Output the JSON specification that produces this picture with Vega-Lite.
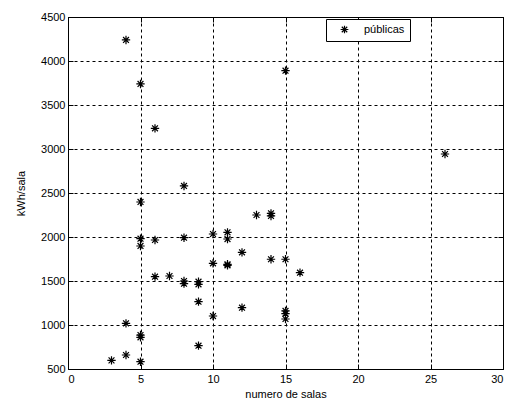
{
  "$schema": "https://vega.github.io/schema/vega-lite/v6.json",
  "width": 435,
  "height": 352,
  "autosize": "none",
  "padding": {"left": 68, "top": 17, "right": 9, "bottom": 38},
  "background": "white",
  "config": {
    "view": {"stroke": "black", "strokeWidth": 1},
    "font": "Liberation Sans",
    "axis": {
      "domain": false,
      "grid": true,
      "gridColor": "black",
      "gridDash": [3, 3],
      "gridOpacity": 1,
      "gridWidth": 1,
      "tickColor": "black",
      "tickSize": -5,
      "labelColor": "black",
      "labelFontSize": 11,
      "labelFont": "Liberation Sans",
      "titleFont": "Liberation Sans",
      "titleFontSize": 11,
      "titleFontWeight": "normal",
      "titleColor": "black"
    }
  },
  "data": {"values": [
    {"salas": 4, "kwh": 4239, "tipo": "públicas"},
    {"salas": 5, "kwh": 3739, "tipo": "públicas"},
    {"salas": 6, "kwh": 3235, "tipo": "públicas"},
    {"salas": 15, "kwh": 3890, "tipo": "públicas"},
    {"salas": 26, "kwh": 2943, "tipo": "públicas"},
    {"salas": 8, "kwh": 2580, "tipo": "públicas"},
    {"salas": 5, "kwh": 2398, "tipo": "públicas"},
    {"salas": 5, "kwh": 1981, "tipo": "públicas"},
    {"salas": 5, "kwh": 1898, "tipo": "públicas"},
    {"salas": 6, "kwh": 1966, "tipo": "públicas"},
    {"salas": 8, "kwh": 1992, "tipo": "públicas"},
    {"salas": 10, "kwh": 2034, "tipo": "públicas"},
    {"salas": 11, "kwh": 2053, "tipo": "públicas"},
    {"salas": 11, "kwh": 1977, "tipo": "públicas"},
    {"salas": 13, "kwh": 2250, "tipo": "públicas"},
    {"salas": 14, "kwh": 2269, "tipo": "públicas"},
    {"salas": 14, "kwh": 2239, "tipo": "públicas"},
    {"salas": 12, "kwh": 1826, "tipo": "públicas"},
    {"salas": 10, "kwh": 1701, "tipo": "públicas"},
    {"salas": 11, "kwh": 1690, "tipo": "públicas"},
    {"salas": 11, "kwh": 1678, "tipo": "públicas"},
    {"salas": 14, "kwh": 1747, "tipo": "públicas"},
    {"salas": 15, "kwh": 1747, "tipo": "públicas"},
    {"salas": 16, "kwh": 1595, "tipo": "públicas"},
    {"salas": 6, "kwh": 1549, "tipo": "públicas"},
    {"salas": 7, "kwh": 1557, "tipo": "públicas"},
    {"salas": 8, "kwh": 1500, "tipo": "públicas"},
    {"salas": 8, "kwh": 1470, "tipo": "públicas"},
    {"salas": 9, "kwh": 1492, "tipo": "públicas"},
    {"salas": 9, "kwh": 1462, "tipo": "públicas"},
    {"salas": 9, "kwh": 1265, "tipo": "públicas"},
    {"salas": 10, "kwh": 1102, "tipo": "públicas"},
    {"salas": 12, "kwh": 1197, "tipo": "públicas"},
    {"salas": 15, "kwh": 1160, "tipo": "públicas"},
    {"salas": 15, "kwh": 1130, "tipo": "públicas"},
    {"salas": 15, "kwh": 1068, "tipo": "públicas"},
    {"salas": 4, "kwh": 1019, "tipo": "públicas"},
    {"salas": 5, "kwh": 886, "tipo": "públicas"},
    {"salas": 5, "kwh": 860, "tipo": "públicas"},
    {"salas": 9, "kwh": 765, "tipo": "públicas"},
    {"salas": 4, "kwh": 659, "tipo": "públicas"},
    {"salas": 3, "kwh": 598, "tipo": "públicas"},
    {"salas": 5, "kwh": 583, "tipo": "públicas"}
  ]},
  "layer": [
    {
      "mark": {
        "type": "point",
        "shape": "M-1,0L1,0M0,-1L0,1M-0.7,-0.7L0.7,0.7M-0.7,0.7L0.7,-0.7",
        "filled": false,
        "size": 70,
        "strokeWidth": 1.2,
        "opacity": 1
      },
      "encoding": {
        "x": {
          "field": "salas", "type": "quantitative",
          "scale": {"domain": [0, 30], "nice": false, "zero": false},
          "axis": {"values": [0, 5, 10, 15, 20, 25, 30], "format": "d", "title": "numero de salas", "labelPadding": 9, "titlePadding": 4}
        },
        "y": {
          "field": "kwh", "type": "quantitative",
          "scale": {"domain": [500, 4500], "nice": false, "zero": false},
          "axis": {"values": [500, 1000, 1500, 2000, 2500, 3000, 3500, 4000, 4500], "format": "d", "title": "kWh/sala", "labelPadding": 8, "titlePadding": 14}
        },
        "color": {
          "field": "tipo", "type": "nominal",
          "scale": {"range": ["black"]},
          "legend": {
            "title": null,
            "orient": "none",
            "legendX": 258,
            "legendY": 2,
            "strokeColor": "black",
            "fillColor": "white",
            "padding": 5,
            "labelFontSize": 11,
            "labelColor": "black",
            "labelFont": "Liberation Sans",
            "symbolType": "M-1,0L1,0M0,-1L0,1M-0.7,-0.7L0.7,0.7M-0.7,0.7L0.7,-0.7",
            "symbolSize": 60,
            "symbolStrokeWidth": 1.2,
            "symbolOffset": 8,
            "labelOffset": 14,
            "columnPadding": 20
          }
        }
      }
    },
    {
      "mark": {"type": "point", "opacity": 0},
      "encoding": {
        "x": {
          "field": "salas", "type": "quantitative",
          "axis": {"orient": "top", "values": [0, 5, 10, 15, 20, 25, 30], "labels": false, "grid": false, "title": null}
        },
        "y": {
          "field": "kwh", "type": "quantitative",
          "axis": {"orient": "right", "values": [500, 1000, 1500, 2000, 2500, 3000, 3500, 4000, 4500], "labels": false, "grid": false, "title": null}
        }
      }
    }
  ],
  "resolve": {"axis": {"x": "independent", "y": "independent"}}
}
